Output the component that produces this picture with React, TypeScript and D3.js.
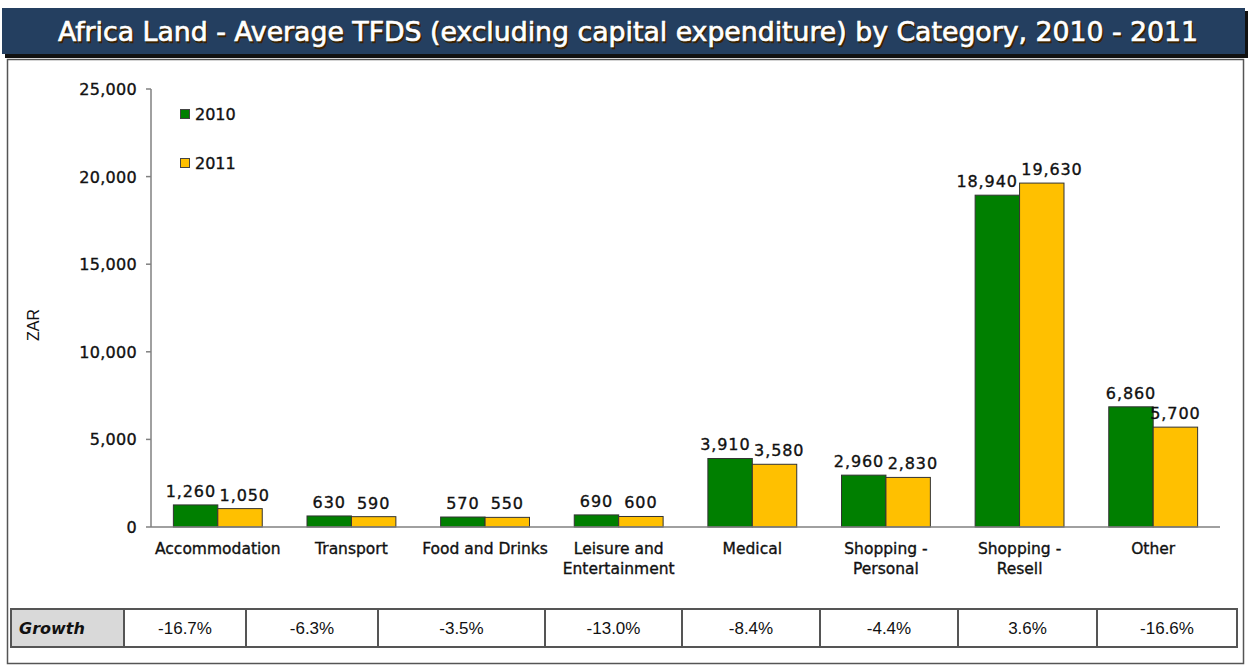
import React from "react";
import * as d3 from "d3";

const categories = [
  ["Accommodation"],
  ["Transport"],
  ["Food and Drinks"],
  ["Leisure and", "Entertainment"],
  ["Medical"],
  ["Shopping -", "Personal"],
  ["Shopping -", "Resell"],
  ["Other"],
];
const values2010 = [1260, 630, 570, 690, 3910, 2960, 18940, 6860];
const values2011 = [1050, 590, 550, 600, 3580, 2830, 19630, 5700];
const growth = ["-16.7%", "-6.3%", "-3.5%", "-13.0%", "-8.4%", "-4.4%", "3.6%", "-16.6%"];
const yTicks = [0, 5000, 10000, 15000, 20000, 25000];
const seriesNames = ["2010", "2011"];

const TITLE = "Africa Land - Average TFDS (excluding capital expenditure) by Category, 2010 - 2011";
const GREEN = "#007f00";
const YELLOW = "#ffc000";
const colors = [GREEN, YELLOW];

// layout
const W = 1250, H = 666;
const plotLeft = 151, plotRight = 1220, plotTop = 89, plotBottom = 527;
const tableTop = 609, tableBottom = 647;
const tableEdges = [11, 124, 246, 378, 545, 682, 820, 958, 1097, 1237];

const labelWidth = (s: string) => s.replace(/,/g, "").length * 10.1 + (s.includes(",") ? 6 : 0) + s.length * 0.9;

export default function App() {
  const x = d3.scaleBand<number>().domain(d3.range(categories.length)).range([plotLeft, plotRight]).paddingInner(0.335).paddingOuter(0.1675);
  const y = d3.scaleLinear().domain([0, 25000]).range([plotBottom, plotTop]);
  const bw = x.bandwidth() / 2;
  const fmt = d3.format(",");
  const series = [values2010, values2011];
  const labelFont = "'DejaVu Sans', Verdana, sans-serif";
  const heavy = { stroke: "#111", strokeWidth: 0.35 };

  // label centers, pushed apart when the pair would overlap
  const labelX = categories.map((_, i) => {
    const c0 = (x(i) as number) + bw / 2;
    const c1 = (x(i) as number) + bw * 1.5;
    const w0 = labelWidth(fmt(values2010[i]));
    const w1 = labelWidth(fmt(values2011[i]));
    const overlap = c0 + w0 / 2 + 3 - (c1 - w1 / 2);
    const sameHeight = Math.abs(y(values2010[i]) - y(values2011[i])) < 18;
    if (overlap > 0 && sameHeight) return [c0 - overlap / 2, c1 + overlap / 2];
    return [c0, c1];
  });

  return (
    <svg width={W} height={H} style={{ position: "absolute", left: 0, top: 0, background: "#fff" }}>
      {/* title bar */}
      <rect x={5} y={11} width={1243} height={47} fill="#111" />
      <rect x={2} y={8} width={1243} height={46} fill="#243f60" />
      <text x={628} y={41} textAnchor="middle" fontFamily="'DejaVu Sans Condensed', 'DejaVu Sans', sans-serif" fontSize={26} fill="#3a2200" stroke="#3a2200" strokeWidth={0.6} textLength={1140} lengthAdjust="spacingAndGlyphs" transform="translate(1.5,1.5)">{TITLE}</text>
      <text x={628} y={41} textAnchor="middle" fontFamily="'DejaVu Sans Condensed', 'DejaVu Sans', sans-serif" fontSize={26} fill="#fff" stroke="#fff" strokeWidth={0.6} textLength={1140} lengthAdjust="spacingAndGlyphs">{TITLE}</text>

      {/* frame */}
      <rect x={7.5} y={59.5} width={1236} height={604} fill="none" stroke="#555" strokeWidth={1.5} />

      {/* y axis */}
      <line x1={plotLeft} x2={plotLeft} y1={plotTop} y2={plotBottom} stroke="#808080" strokeWidth={1.5} />
      {yTicks.map((t) => (
        <g key={t}>
          <line x1={plotLeft - 5} x2={plotLeft} y1={y(t)} y2={y(t)} stroke="#808080" strokeWidth={1.5} />
          <text x={plotLeft - 14} y={y(t) + 6} textAnchor="end" fontFamily={labelFont} fontSize={16} fill="#111" letterSpacing={0.3} {...heavy}>{fmt(t)}</text>
        </g>
      ))}
      <text transform={`translate(39,${325}) rotate(-90)`} textAnchor="middle" fontFamily="'Liberation Sans', Arial, sans-serif" fontSize={16} fill="#111">ZAR</text>

      {/* bars */}
      {series.map((vals, s) =>
        vals.map((v, i) => (
          <rect key={`${s}-${i}`} x={(x(i) as number) + s * bw} y={y(v)} width={bw} height={plotBottom - y(v)} fill={colors[s]} stroke="#333" strokeWidth={1} />
        ))
      )}
      {/* value labels */}
      {series.map((vals, s) =>
        vals.map((v, i) => (
          <text key={`l${s}-${i}`} x={labelX[i][s]} y={y(v) - 8} textAnchor="middle" fontFamily={labelFont} fontSize={16} fill="#111" letterSpacing={0.9} {...heavy}>{fmt(v)}</text>
        ))
      )}

      {/* x axis */}
      <line x1={plotLeft} x2={plotRight} y1={plotBottom} y2={plotBottom} stroke="#808080" strokeWidth={1.5} />
      {categories.map((lines, i) => (
        <text key={i} x={(x(i) as number) + x.bandwidth() / 2} y={554} textAnchor="middle" fontFamily={labelFont} fontSize={15.5} fill="#111" {...heavy}>
          {lines.map((ln, k) => (
            <tspan key={k} x={(x(i) as number) + x.bandwidth() / 2} dy={k === 0 ? 0 : 20}>{ln}</tspan>
          ))}
        </text>
      ))}

      {/* legend */}
      {seriesNames.map((n, s) => (
        <g key={n}>
          <rect x={180.5} y={109.5 + s * 49} width={9} height={9} fill={colors[s]} stroke="#444" strokeWidth={1} />
          <text x={195} y={120 + s * 49} fontFamily={labelFont} fontSize={16} fill="#111" {...heavy}>{n}</text>
        </g>
      ))}

      {/* growth table */}
      <rect x={tableEdges[0]} y={tableTop} width={tableEdges[1] - tableEdges[0]} height={tableBottom - tableTop} fill="#d9d9d9" />
      <rect x={tableEdges[0]} y={tableTop} width={tableEdges[tableEdges.length - 1] - tableEdges[0]} height={tableBottom - tableTop} fill="none" stroke="#555" strokeWidth={2} />
      {tableEdges.slice(1, -1).map((e, k) => (
        <line key={k} x1={e} x2={e} y1={tableTop} y2={tableBottom} stroke="#555" strokeWidth={2} />
      ))}
      <text x={19} y={634} fontFamily={labelFont} fontStyle="italic" fontWeight="bold" fontSize={16} fill="#111">Growth</text>
      {growth.map((g, i) => (
        <text key={i} x={(tableEdges[i + 1] + tableEdges[i + 2]) / 2} y={634} textAnchor="middle" fontFamily="'Liberation Sans Narrow', 'Liberation Sans', Arial, sans-serif" fontSize={17} fill="#111">{g}</text>
      ))}
    </svg>
  );
}
